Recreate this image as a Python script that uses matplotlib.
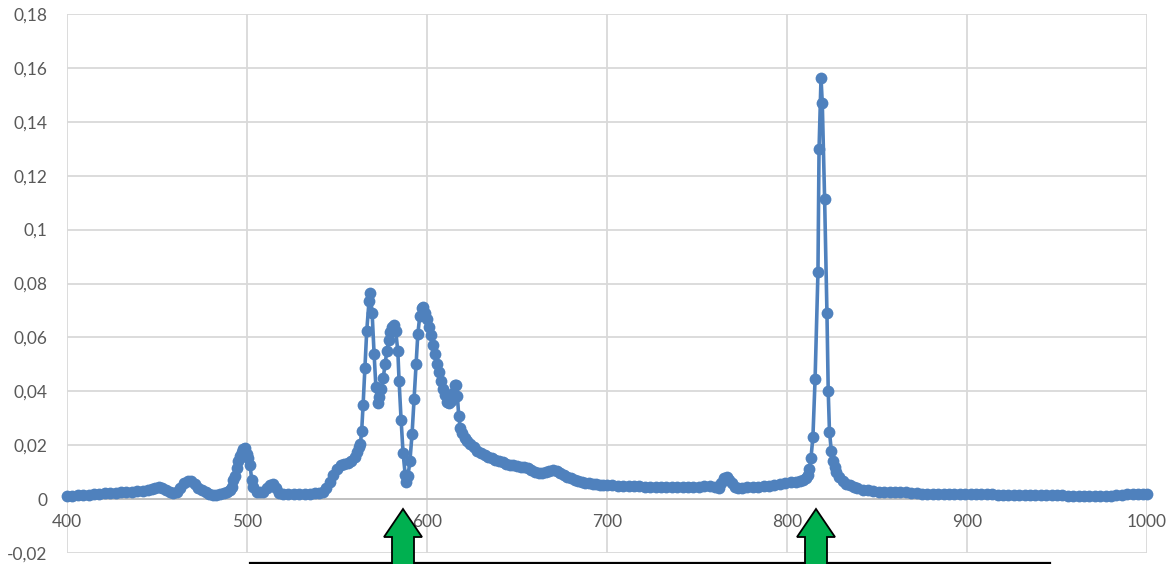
import matplotlib
matplotlib.use("Agg")
import matplotlib.pyplot as plt
from matplotlib.patches import Polygon
from matplotlib.lines import Line2D

# ---- data (wavelength nm, intensity) ----
wavelength = [
    400, 403, 406, 409, 412, 415, 418, 421, 424, 427, 430, 433, 436, 439, 442, 445,
    447, 449, 451, 453, 455, 457, 459, 461, 463, 465, 467, 469, 471, 473, 475, 477,
    479, 481, 483, 485, 487, 489, 490.8,
    491.7, 492.5, 493.3, 494.2, 495.2, 496.1, 497.0, 498.0, 498.9, 499.8, 500.7,
    501.7, 502.6, 503.6, 505.4, 507, 509, 511, 513, 514.5, 516, 518, 520, 523, 526,
    529, 532, 535, 538, 540, 542, 544, 546, 548, 550, 552, 554, 556, 558, 560, 561,
    562, 563, 563.7, 564.5, 565.5, 566.5, 567.8, 568.4, 569.5, 570.6, 571.6, 572.6,
    573.6, 574.7, 575.7, 576.7, 577.7, 578.7, 579.7, 580.8, 581.6, 582.6, 583.8,
    584.5, 585.6, 586.7, 587.9, 588.5, 589.4, 590.5, 591.7, 592.8, 593.9, 594.9,
    596.0, 597.0, 598.0, 599.0, 600.2, 601.3, 602.4, 603.4, 604.4, 605.5, 606.6,
    607.7, 608.8, 609.9, 611.0, 612.1, 613.2, 614.3, 615.3, 616.0, 616.9, 617.6,
    618.5, 619.5, 621, 622.5, 624, 626, 628, 630, 632, 634, 636, 638, 640, 642, 644,
    646, 648, 650, 652, 654, 656, 658, 660, 662, 664, 666, 668, 670, 672, 674, 676,
    678, 680, 682, 684, 686, 688, 690, 692, 694, 696, 698, 700, 703, 706, 709, 712,
    715, 718, 721, 724, 727, 730, 733, 736, 739, 742, 745, 748, 751, 754, 757, 760,
    762, 763.5, 765, 766.5, 768, 769.5, 771, 773, 775, 778, 781, 784, 787, 790, 793,
    796, 799, 802, 805, 807, 809, 810.5, 811.5, 812.4, 813.3, 814.4, 815.6, 817.2,
    817.8, 818.9, 819.6, 820.9, 822.2, 822.9, 823.6, 824.6, 825.5, 826.5, 827.5,
    829, 831, 833, 835, 837, 839, 842, 845, 848, 851, 854, 857, 860, 863, 866, 869,
    872, 875, 878, 881, 884, 887, 890, 893, 896, 899, 902, 905, 908, 911, 914, 917,
    920, 923, 926, 929, 932, 935, 938, 941, 944, 947, 950, 953, 956, 959, 962, 965,
    968, 971, 974, 977, 980, 983, 986, 989, 992, 995, 998, 1000,
]

intensity = [
    0.0011, 0.0012, 0.0014, 0.0015, 0.0016, 0.0018, 0.0019, 0.0021, 0.0022, 0.0024,
    0.0025, 0.0027, 0.0028, 0.0030, 0.0031, 0.0034,
    0.0038, 0.0042, 0.0044, 0.0041, 0.0033, 0.0026, 0.0022, 0.0025, 0.0040, 0.0058,
    0.0069, 0.0067, 0.0055, 0.0042, 0.0032, 0.0025,
    0.0020, 0.0016, 0.0016, 0.0018, 0.0022, 0.0027, 0.0033,
    0.0045, 0.0070, 0.0085, 0.0115, 0.0140, 0.0160, 0.0176, 0.0185, 0.0188, 0.0168,
    0.0151,
    0.0126, 0.0072, 0.0045, 0.0028, 0.0025, 0.0028, 0.0040, 0.0054, 0.0055, 0.0042,
    0.0024, 0.0018, 0.0018, 0.0018,
    0.0019, 0.0019, 0.0020, 0.0021, 0.0022, 0.0028, 0.0040, 0.0065, 0.0090, 0.0112,
    0.0127, 0.0132, 0.0135, 0.0140, 0.0155, 0.0175,
    0.0195, 0.0205, 0.0252, 0.0350, 0.0485, 0.0622, 0.0736, 0.0766, 0.0692, 0.0540,
    0.0417, 0.0358,
    0.0380, 0.0410, 0.0450, 0.0500, 0.0550, 0.0590, 0.0620, 0.0640, 0.0645, 0.0625,
    0.0548,
    0.0437, 0.0295, 0.0172, 0.0090, 0.0062, 0.0085, 0.0140, 0.0242, 0.0370, 0.0500,
    0.0612,
    0.0680, 0.0708, 0.0712, 0.0690, 0.0670, 0.0640, 0.0610, 0.0570, 0.0540, 0.0500,
    0.0470,
    0.0440, 0.0410, 0.0385, 0.0362, 0.0355, 0.0365, 0.0395, 0.0422, 0.0425, 0.0382,
    0.0310,
    0.0262, 0.0245, 0.0228, 0.0215, 0.0204, 0.0192, 0.0180, 0.0172, 0.0165, 0.0158,
    0.0152, 0.0146, 0.0141, 0.0136, 0.0132,
    0.0128, 0.0125, 0.0122, 0.0120, 0.0118, 0.0115, 0.0108, 0.0101, 0.0097, 0.0098,
    0.0102, 0.0106, 0.0107, 0.0104, 0.0098, 0.0090,
    0.0083, 0.0077, 0.0072, 0.0068, 0.0064, 0.0061, 0.0059, 0.0057, 0.0056, 0.0054,
    0.0053, 0.0052, 0.0051, 0.0050, 0.0049, 0.0048,
    0.0047, 0.0047, 0.0046, 0.0046, 0.0046, 0.0046, 0.0046, 0.0046, 0.0046, 0.0046,
    0.0046, 0.0046, 0.0046, 0.0047, 0.0047, 0.0045,
    0.0043, 0.0058, 0.0080, 0.0082, 0.0072, 0.0060, 0.0046, 0.0042, 0.0043, 0.0044,
    0.0045, 0.0046, 0.0048, 0.0050, 0.0053,
    0.0056, 0.0059, 0.0062, 0.0065, 0.0067, 0.0070, 0.0078, 0.0090, 0.0111, 0.0151,
    0.0231, 0.0445, 0.0842,
    0.1298, 0.1562, 0.1469, 0.1113, 0.0689, 0.0402, 0.0250, 0.0180, 0.0140, 0.0118,
    0.0100,
    0.0083, 0.0068, 0.0057, 0.0051, 0.0045, 0.0040, 0.0035, 0.0032, 0.0030, 0.0028,
    0.0027, 0.0026, 0.0026, 0.0027, 0.0026, 0.0023,
    0.0021, 0.0020, 0.0020, 0.0020, 0.0020, 0.0020, 0.0020, 0.0019, 0.0019, 0.0019,
    0.0019, 0.0018, 0.0018, 0.0018, 0.0018, 0.0017,
    0.0017, 0.0017, 0.0016, 0.0016, 0.0016, 0.0015, 0.0015, 0.0015, 0.0015, 0.0014,
    0.0014, 0.0014, 0.0013, 0.0013, 0.0012, 0.0011,
    0.0010, 0.0010, 0.0010, 0.0011, 0.0013, 0.0015, 0.0017, 0.0018, 0.0019, 0.0019,
    0.0019, 0.0018,
]

x_ticks = [400, 500, 600, 700, 800, 900, 1000]
x_tick_labels = ["400", "500", "600", "700", "800", "900", "1000"]
y_ticks = [-0.02, 0, 0.02, 0.04, 0.06, 0.08, 0.1, 0.12, 0.14, 0.16, 0.18]
y_tick_labels = ["-0,02", "0", "0,02", "0,04", "0,06", "0,08", "0,1", "0,12",
                 "0,14", "0,16", "0,18"]
arrow_positions_px = [403, 816]   # annotation arrows (figure pixel x)

# ---- figure ----
W, H = 1174, 564
fig = plt.figure(figsize=(W / 100, H / 100), dpi=100)
fig.patch.set_facecolor("white")
plt.rcParams["font.family"] = ["Lato", "DejaVu Sans"]

L, R, T, B = 67, 1147, 14, 553
ax = fig.add_axes([L / W, 1 - B / H, (R - L) / W, (B - T) / H])

grid_c = "#D9D9D9"
ax.plot(wavelength, intensity, color="#4F81BD", lw=2.6, marker="o",
        markersize=8.5, markeredgewidth=0, zorder=3, clip_on=False)

ax.set_xlim(400, 1000)
ax.set_ylim(-0.02, 0.18)
ax.set_xticks(x_ticks)
ax.set_xticklabels(x_tick_labels)
ax.set_yticks(y_ticks)
ax.set_yticklabels(y_tick_labels)

ax.grid(True, color=grid_c, lw=1.3, zorder=0)
ax.set_axisbelow(True)
for s in ["top", "right", "left"]:
    ax.spines[s].set_visible(False)
ax.spines["bottom"].set_position(("data", 0))
ax.spines["bottom"].set_color("#BFBFBF")
ax.spines["bottom"].set_linewidth(1.3)
ax.tick_params(axis="both", length=0, colors="#595959", labelsize=12.5)
ax.tick_params(axis="x", pad=11)
ax.tick_params(axis="y", pad=14)

# ---- annotation: green arrows and black line ----
ax.add_line(Line2D([250 / W, 1050 / W], [1 - 563 / H, 1 - 563 / H],
                   transform=fig.transFigure, color="black", lw=1.6,
                   zorder=5, clip_on=False))
for cx in arrow_positions_px:
    tip, base, bottom = 509, 537, 570
    hw, sw = 19, 11
    pts_px = [(cx, tip), (cx + hw, base), (cx + sw, base), (cx + sw, bottom),
              (cx - sw, bottom), (cx - sw, base), (cx - hw, base)]
    pts = [(px / W, 1 - py / H) for px, py in pts_px]
    poly = Polygon(pts, closed=True, facecolor="#00B050", edgecolor="black",
                   lw=1.3, transform=fig.transFigure, zorder=10, clip_on=False)
    fig.patches.append(poly)

fig.savefig("out.png", dpi=100)
